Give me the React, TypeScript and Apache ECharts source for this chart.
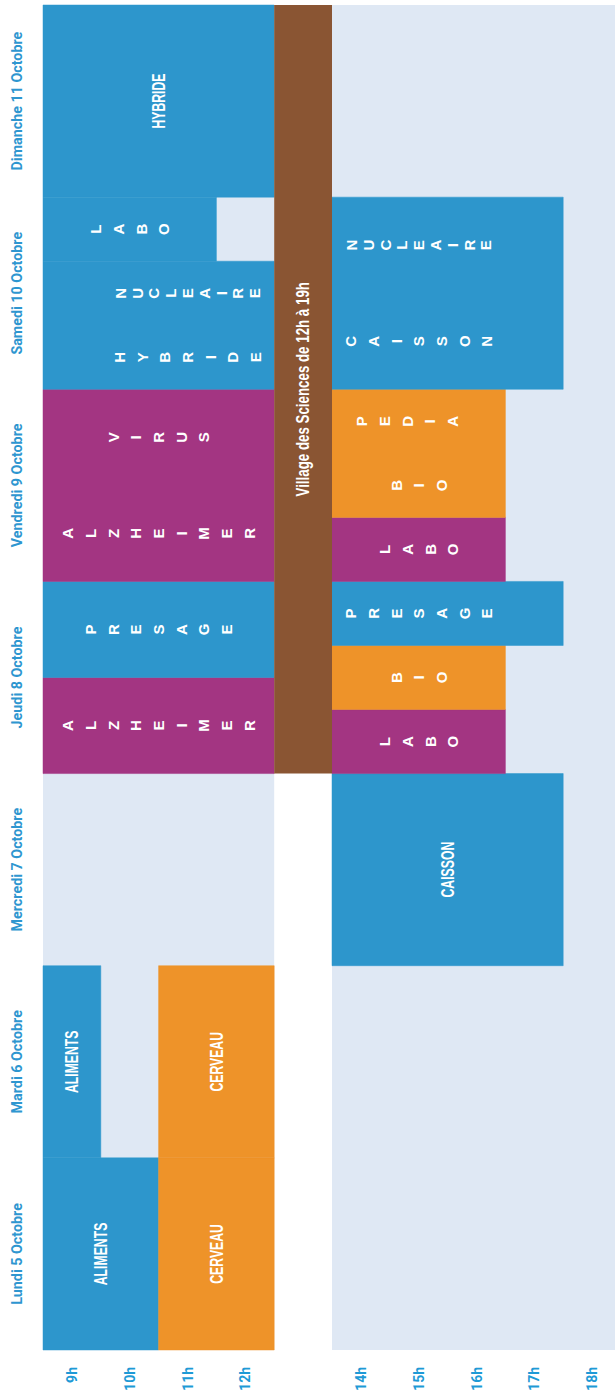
import React, { useEffect, useRef } from "react";
import * as echarts from "echarts";

// Days (bottom to top in the rotated schedule)
const days = [
  "Lundi 5 Octobre",
  "Mardi 6 Octobre",
  "Mercredi 7 Octobre",
  "Jeudi 8 Octobre",
  "Vendredi 9 Octobre",
  "Samedi 10 Octobre",
  "Dimanche 11 Octobre",
];

// Hour slots from 9h to 19h (one label per hour slot)
const hourLabels = ["9h", "10h", "11h", "12h", "", "14h", "15h", "16h", "17h", "18h"];
const dayStart = 9;
const dayEnd = 19;

// Open periods (light background): [start hour, end hour]
const openSpans: [number, number][] = [
  [9, 13],
  [14, 19],
];

// Activity blocks: [day index, start hour, end hour, lower share of day, upper share of day, theme]
const blocks: [number, number, number, number, number, string][] = [
  [0, 9, 11, 0, 1, "blue"],
  [0, 11, 13, 0, 1, "orange"],
  [1, 9, 10, 0, 1, "blue"],
  [1, 11, 13, 0, 1, "orange"],
  [2, 14, 18, 0, 1, "blue"],
  [3, 9, 13, 0, 0.5, "purple"],
  [3, 9, 13, 0.5, 1, "blue"],
  [3, 14, 17, 0, 1 / 3, "purple"],
  [3, 14, 17, 1 / 3, 2 / 3, "orange"],
  [3, 14, 18, 2 / 3, 1, "blue"],
  [4, 9, 13, 0, 1, "purple"],
  [4, 14, 17, 0, 1 / 3, "purple"],
  [4, 14, 17, 1 / 3, 1, "orange"],
  [5, 9, 12, 2 / 3, 1, "blue"],
  [5, 9, 13, 0, 2 / 3, "blue"],
  [5, 14, 18, 0, 1, "blue"],
  [6, 9, 13, 0, 1, "blue"],
];

// Block titles: [day index, centre hour, share of day (from bottom), text, stacked letters]
const titles: [number, number, number, string, boolean][] = [
  [0, 10, 0.5, "ALIMENTS", false],
  [0, 12, 0.5, "CERVEAU", false],
  [1, 9.5, 0.5, "ALIMENTS", false],
  [1, 12, 0.5, "CERVEAU", false],
  [2, 16, 0.5, "CAISSON", false],
  [3, 11, 0.25, "ALZHEIMER", true],
  [3, 11, 0.75, "PRESAGE", true],
  [3, 15.5, 1 / 6, "LABO", true],
  [3, 15.5, 0.5, "BIO", true],
  [3, 15.5, 5 / 6, "PRESAGE", true],
  [4, 11, 0.25, "ALZHEIMER", true],
  [4, 11, 0.75, "VIRUS", true],
  [4, 15.5, 1 / 6, "LABO", true],
  [4, 15.5, 0.5, "BIO", true],
  [4, 15.3, 5 / 6, "PEDIA", true],
  [5, 10.5, 5 / 6, "LABO", true],
  [5, 11.5, 1 / 6, "HYBRIDE", true],
  [5, 11.5, 0.5, "NUCLEAIRE", true],
  [5, 15.5, 0.25, "CAISSON", true],
  [5, 15.5, 0.75, "NUCLEAIRE", true],
  [6, 11, 0.5, "HYBRIDE", false],
];
const tightStacks = ["NUCLEAIRE"];

// Village des Sciences: [start hour, end hour, first day, last day]
const village: [number, number, number, number] = [13, 14, 3, 6];
const villageText = "Village des Sciences de 12h à 19h";

const COLORS: Record<string, string> = {
  blue: "#2d96cc",
  purple: "#a33582",
  orange: "#ee9329",
};
const BROWN = "#8a5533";
const BG = "#dfe8f4";
const SANS = "'Liberation Sans', Arial, sans-serif";
const AXISFONT = "Roboto, 'Liberation Sans', sans-serif";

export default function App() {
  const ref = useRef<HTMLDivElement>(null);

  useEffect(() => {
    if (!ref.current) return;
    const chart = echarts.init(ref.current, undefined, { renderer: "svg" });

    const bandOf = (api: any) => api.size([0, 1])[1];

    const option: any = {
      animation: false,
      grid: { left: 43, right: 0, top: 5, bottom: 44, containLabel: false, outerBoundsMode: "none" },
      xAxis: [
        {
          type: "value",
          min: dayStart,
          max: dayEnd,
          position: "bottom",
          axisLine: { show: false },
          axisTick: { show: false },
          axisLabel: { show: false },
          splitLine: { show: false },
        },
        {
          type: "category",
          data: hourLabels,
          position: "bottom",
          boundaryGap: true,
          axisLine: { show: false },
          axisTick: { show: false },
          splitLine: { show: false },
          axisLabel: {
            interval: 0,
            rotate: 90,
            margin: 17,
            color: "#1e9ad6",
            fontSize: 14,
            fontWeight: "bold",
            fontFamily: AXISFONT,
          },
        },
      ],
      yAxis: {
        type: "category",
        data: days,
        axisLine: { show: false },
        axisTick: { show: false },
        splitLine: { show: false },
        axisLabel: {
          interval: 0,
          rotate: 90,
          margin: 19,
          color: "#2e96d0",
          fontSize: 14.3,
          fontWeight: "bold",
          fontFamily: AXISFONT,
        },
      },
      series: [
        {
          type: "custom",
          z: 1,
          xAxisIndex: 0,
          yAxisIndex: 0,
          encode: { x: [0, 1], y: 2 },
          data: openSpans.map((s) => [s[0], s[1], 0]),
          renderItem: (params: any, api: any) => {
            const a = api.coord([api.value(0), 0]);
            const b = api.coord([api.value(1), 0]);
            const cs = params.coordSys;
            return {
              type: "rect",
              shape: { x: a[0], y: cs.y, width: b[0] - a[0], height: cs.height },
              style: { fill: BG },
            };
          },
        },
        {
          type: "custom",
          z: 2,
          xAxisIndex: 0,
          yAxisIndex: 0,
          encode: { x: [1, 2], y: 0 },
          data: blocks.map((b) => [b[0], b[1], b[2], b[3], b[4]]),
          renderItem: (params: any, api: any) => {
            const blk = blocks[params.dataIndex];
            const band = bandOf(api);
            const a = api.coord([api.value(1), api.value(0)]);
            const b = api.coord([api.value(2), api.value(0)]);
            const bottom = a[1] + band / 2;
            const y1 = bottom - api.value(4) * band;
            const y2 = bottom - api.value(3) * band;
            const col = COLORS[blk[5]];
            return {
              type: "rect",
              shape: { x: a[0], y: y1, width: b[0] - a[0], height: y2 - y1 },
              style: { fill: col, stroke: col, lineWidth: 0.5 },
            };
          },
        },
        {
          type: "custom",
          z: 3,
          xAxisIndex: 0,
          yAxisIndex: 0,
          encode: { x: [0, 1], y: [2, 3] },
          data: [village],
          renderItem: (params: any, api: any) => {
            const band = bandOf(api);
            const top = api.coord([api.value(0), api.value(3)]);
            const bot = api.coord([api.value(1), api.value(2)]);
            const y1 = top[1] - band / 2;
            const y2 = bot[1] + band / 2;
            return {
              type: "group",
              children: [
                {
                  type: "rect",
                  shape: { x: top[0], y: y1, width: bot[0] - top[0], height: y2 - y1 },
                  style: { fill: BROWN },
                },
                {
                  type: "text",
                  x: (top[0] + bot[0]) / 2,
                  y: (y1 + y2) / 2,
                  rotation: Math.PI / 2,
                  scaleX: 0.74,
                  style: {
                    text: villageText,
                    fill: "#ffffff",
                    fontSize: 18,
                    fontWeight: "bold",
                    fontFamily: SANS,
                    align: "center",
                    verticalAlign: "middle",
                  },
                },
              ],
            };
          },
        },
        {
          type: "custom",
          z: 4,
          xAxisIndex: 0,
          yAxisIndex: 0,
          encode: { x: 1, y: 0 },
          data: titles.map((t) => [t[0], t[1], t[2]]),
          renderItem: (params: any, api: any) => {
            const t = titles[params.dataIndex];
            const band = bandOf(api);
            const c = api.coord([api.value(1), api.value(0)]);
            const y = c[1] + band / 2 - api.value(2) * band;
            const stacked = t[4];
            if (stacked) {
              return {
                type: "text",
                x: c[0],
                y,
                rotation: Math.PI / 2,
                style: {
                  text: t[3].split("").join("\n"),
                  fill: "#ffffff",
                  fontSize: 15,
                  fontWeight: "bold",
                  fontFamily: SANS,
                  lineHeight: tightStacks.includes(t[3]) ? 16.8 : 22.7,
                  align: "center",
                  verticalAlign: "middle",
                },
              };
            }
            return {
              type: "text",
              x: c[0],
              y,
              rotation: Math.PI / 2,
              scaleX: 0.7,
              style: {
                text: t[3],
                fill: "#ffffff",
                fontSize: 17.5,
                fontWeight: "bold",
                fontFamily: SANS,
                align: "center",
                verticalAlign: "middle",
              },
            };
          },
        },
      ],
    };

    chart.setOption(option);
    return () => chart.dispose();
  }, []);

  return (
    <div style={{ position: "absolute", left: 0, top: 0, width: 615, height: 1394, overflow: "hidden", background: "#ffffff" }}>
      <div ref={ref} style={{ width: 621, height: 1394 }} />
    </div>
  );
}
